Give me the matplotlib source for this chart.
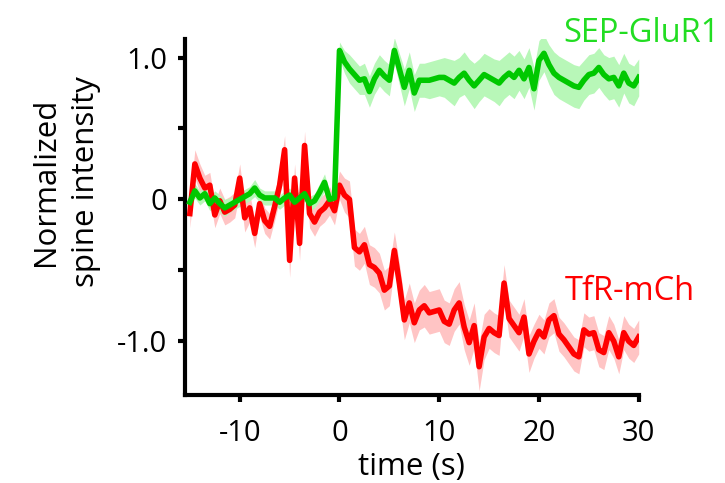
import numpy as np
import matplotlib
matplotlib.use("Agg")
import matplotlib.pyplot as plt

# time axis (s), one frame every 0.5 s
time_s = np.arange(-15.0, 30.01, 0.5)

green_mean = [
    -0.02, 0.06, 0.01, 0.04, -0.03, 0.01, -0.03, -0.06, -0.04, -0.02,
    0.00, 0.02, 0.04, 0.08, 0.03, 0.01, 0.01, 0.01, -0.02, 0.01,
    0.03, -0.02, 0.01, 0.04, -0.03, -0.01, 0.05, 0.12, 0.00, 0.01,
    1.05, 0.97, 0.92, 0.88, 0.84, 0.85, 0.76, 0.85, 0.91, 0.87,
    0.84, 1.05, 0.92, 0.79, 0.91, 0.75, 0.84, 0.84, 0.84, 0.85,
    0.86, 0.86, 0.84, 0.82, 0.86, 0.89, 0.84, 0.80, 0.84, 0.88,
    0.86, 0.84, 0.82, 0.86, 0.89, 0.86, 0.91, 0.85, 0.93, 0.78,
    0.98, 1.03, 0.95, 0.89, 0.86, 0.84, 0.82, 0.80, 0.79, 0.84,
    0.88, 0.89, 0.93, 0.88, 0.85, 0.86, 0.80, 0.89, 0.82, 0.80,
    0.86,
]
green_err = [
    0.05, 0.05, 0.05, 0.05, 0.05, 0.05, 0.06, 0.06, 0.05, 0.05,
    0.05, 0.05, 0.05, 0.06, 0.05, 0.05, 0.05, 0.05, 0.05, 0.05,
    0.05, 0.05, 0.05, 0.05, 0.05, 0.05, 0.06, 0.06, 0.05, 0.05,
    0.06, 0.08, 0.10, 0.10, 0.10, 0.11, 0.11, 0.11, 0.11, 0.11,
    0.11, 0.09, 0.11, 0.13, 0.13, 0.13, 0.12, 0.12, 0.13, 0.13,
    0.13, 0.14, 0.15, 0.16, 0.14, 0.15, 0.15, 0.16, 0.15, 0.15,
    0.15, 0.15, 0.16, 0.15, 0.15, 0.15, 0.14, 0.14, 0.14, 0.15,
    0.14, 0.13, 0.14, 0.15, 0.15, 0.15, 0.15, 0.15, 0.15, 0.14,
    0.14, 0.14, 0.14, 0.14, 0.15, 0.15, 0.15, 0.14, 0.14, 0.14,
    0.13,
]

red_mean = [
    -0.10, 0.25, 0.15, 0.08, 0.10, -0.11, -0.01, -0.09, -0.07, -0.04,
    0.15, -0.13, -0.06, -0.24, -0.03, -0.15, -0.19, -0.05, 0.10, 0.35,
    -0.43, 0.15, -0.31, 0.38, -0.10, -0.16, -0.09, -0.06, -0.01, -0.08,
    0.10, 0.03, 0.00, -0.34, -0.37, -0.32, -0.46, -0.48, -0.52, -0.64,
    -0.61, -0.36, -0.59, -0.85, -0.73, -0.87, -0.78, -0.75, -0.80, -0.79,
    -0.78, -0.86, -0.88, -0.78, -0.73, -0.90, -1.01, -0.89, -1.18, -0.97,
    -0.91, -0.94, -0.96, -0.59, -0.84, -0.89, -0.94, -0.83, -1.09, -1.00,
    -0.93, -0.97, -0.85, -0.82, -0.95, -0.99, -1.04, -1.09, -1.11, -0.92,
    -0.95, -0.94, -1.06, -1.08, -0.94, -1.00, -1.11, -0.94, -1.00, -1.03,
    -0.97,
]
red_err = [
    0.10, 0.10, 0.10, 0.09, 0.09, 0.09, 0.09, 0.09, 0.09, 0.09,
    0.10, 0.10, 0.10, 0.10, 0.09, 0.09, 0.09, 0.10, 0.10, 0.10,
    0.12, 0.10, 0.12, 0.10, 0.10, 0.10, 0.10, 0.10, 0.10, 0.10,
    0.10, 0.12, 0.13, 0.13, 0.13, 0.13, 0.14, 0.14, 0.14, 0.14,
    0.14, 0.13, 0.14, 0.14, 0.14, 0.14, 0.14, 0.15, 0.15, 0.15,
    0.15, 0.15, 0.15, 0.15, 0.15, 0.16, 0.16, 0.16, 0.17, 0.16,
    0.14, 0.14, 0.14, 0.13, 0.13, 0.13, 0.13, 0.13, 0.13, 0.12,
    0.12, 0.12, 0.12, 0.12, 0.12, 0.12, 0.12, 0.12, 0.12, 0.12,
    0.12, 0.12, 0.12, 0.12, 0.12, 0.12, 0.12, 0.12, 0.12, 0.12,
    0.12,
]

green_line = '#00c800'
green_band = '#b8f7b8'
red_line = '#ff0000'
red_band = '#ffc4c4'

plt.rcParams.update({
    'font.family': 'Open Sans',
    'font.size': 21,
})

fig = plt.figure(figsize=(7.25, 4.83), dpi=100)
ax = fig.add_axes([0.255, 0.182, 0.626, 0.737])

gm = np.array(green_mean)
ge = np.array(green_err)
rm = np.array(red_mean)
re = np.array(red_err)

ax.fill_between(time_s, rm - re, rm + re, color=red_band, linewidth=0, zorder=1)
ax.fill_between(time_s, gm - ge, gm + ge, color=green_band, linewidth=0, zorder=2)
ax.plot(time_s, rm, color=red_line, linewidth=4, zorder=3)
ax.plot(time_s, gm, color=green_line, linewidth=4, zorder=4)

ax.set_xlim(-15.5, 30)
ax.set_ylim(-1.38, 1.13)

ax.set_xticks([-10, 0, 10, 20, 30])
ax.set_xticklabels(['-10', '0', '10', '20', '30'])
ax.set_yticks([-1.0, -0.5, 0, 0.5, 1.0])
ax.set_yticklabels(['-1.0', '', '0', '', '1.0'])

for side in ['top', 'right']:
    ax.spines[side].set_visible(False)
for side in ['left', 'bottom']:
    ax.spines[side].set_linewidth(3)
ax.tick_params(width=3, length=5, labelsize=21)
ax.tick_params(axis='x', pad=12)
ax.tick_params(axis='y', pad=8)

ax.set_xlabel('time (s)', fontsize=22.5, labelpad=3)
ax.set_ylabel('Normalized\nspine intensity', fontsize=22.5, linespacing=1.45)
ax.yaxis.set_label_coords(-0.185, 0.6)

ax.text(22.4, 1.11, 'SEP-GluR1', color='#22dd22', fontsize=23.5,
        ha='left', va='baseline', clip_on=False)
ax.text(22.6, -0.71, 'TfR-mCh', color=red_line, fontsize=23.5,
        ha='left', va='baseline', clip_on=False)

fig.savefig('out.png', dpi=100)
